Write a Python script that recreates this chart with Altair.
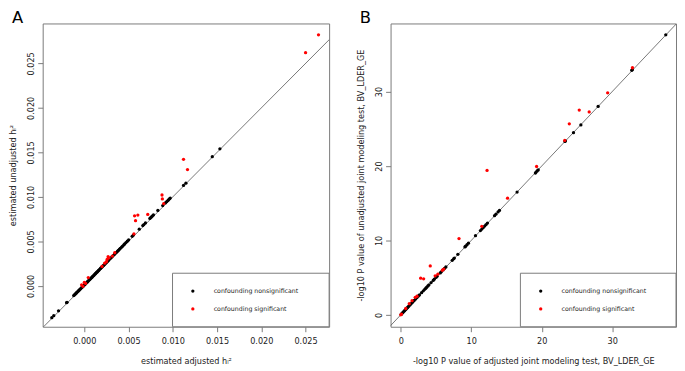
import altair as alt
import pandas as pd

# ---------------- data ----------------
legend_labels = ["confounding nonsignificant", "confounding significant"]
group_colors = ["#000000", "#ff0000"]

# Panel A: estimated adjusted h2 (x) vs estimated unadjusted h2 (y)
A_black = [
    (-0.00367, -0.00358), (-0.00345, -0.00336), (-0.00291, -0.00281), (-0.00200, -0.00189),
    (-0.00195, -0.00185), (-0.00120, -0.00110), (-0.00112, -0.00102), (-0.00103, -0.00094),
    (-0.00095, -0.00086), (-0.00087, -0.00078), (-0.00080, -0.00070), (-0.00072, -0.00063),
    (-0.00064, -0.00055), (-0.00056, -0.00047), (-0.00048, -0.00039), (-0.00040, -0.00031),
    (-0.00032, -0.00023), (-0.00024, -0.00015), (-0.00016, -0.00007), (-0.00008, 0.00001),
    (0.00000, 0.00009), (0.00007, 0.00016), (0.00014, 0.00023), (0.00022, 0.00031),
    (0.00030, 0.00039), (0.00037, 0.00046), (0.00044, 0.00054), (0.00052, 0.00062),
    (0.00060, 0.00070), (0.00067, 0.00077), (0.00074, 0.00084), (0.00082, 0.00092),
    (0.00090, 0.00100), (0.00097, 0.00107), (0.00105, 0.00115), (0.00112, 0.00122),
    (0.00120, 0.00131), (0.00128, 0.00139), (0.00136, 0.00147), (0.00143, 0.00154),
    (0.00151, 0.00162), (0.00159, 0.00170), (0.00166, 0.00177), (0.00174, 0.00186),
    (0.00183, 0.00195), (0.00191, 0.00203), (0.00199, 0.00211), (0.00208, 0.00220),
    (0.00216, 0.00228), (0.00225, 0.00237), (0.00233, 0.00245), (0.00242, 0.00254),
    (0.00252, 0.00264), (0.00264, 0.00276), (0.00277, 0.00290), (0.00290, 0.00303),
    (0.00302, 0.00315), (0.00314, 0.00327), (0.00327, 0.00340), (0.00340, 0.00353),
    (0.00352, 0.00365), (0.00364, 0.00377), (0.00376, 0.00389), (0.00386, 0.00399),
    (0.00396, 0.00410), (0.00406, 0.00420), (0.00421, 0.00435), (0.00433, 0.00447),
    (0.00446, 0.00460), (0.00456, 0.00471), (0.00471, 0.00486), (0.00486, 0.00501),
    (0.00501, 0.00516), (0.00541, 0.00557), (0.00553, 0.00569), (0.00621, 0.00637),
    (0.00661, 0.00677), (0.00673, 0.00689), (0.00691, 0.00707), (0.00741, 0.00757),
    (0.00753, 0.00769), (0.00766, 0.00782), (0.00781, 0.00797), (0.00831, 0.00847),
    (0.00886, 0.00902), (0.00916, 0.00932), (0.00929, 0.00944), (0.00941, 0.00956),
    (0.00951, 0.00966), (0.00963, 0.00978), (0.00971, 0.00986), (0.01121, 0.01128),
    (0.01148, 0.01154), (0.01446, 0.01452), (0.01532, 0.01540),
]
A_red = [
    (0.01121, 0.01422), (0.01166, 0.01307), (0.02500, 0.02621), (0.02646, 0.02822),
    (0.00878, 0.01021), (0.00882, 0.00977), (0.00897, 0.00924), (0.00568, 0.00787),
    (0.00605, 0.00795), (0.00579, 0.00732), (0.00717, 0.00802), (0.00561, 0.00583),
    (0.00269, 0.00327), (0.00258, 0.00297), (0.00317, 0.00334), (0.00344, 0.00372),
    (0.00250, 0.00272), (0.00280, 0.00315), (0.00045, 0.00093), (0.00000, 0.00038),
    (-0.00030, 0.00011), (0.00015, 0.00027), (0.00230, 0.00255), (0.00200, 0.00218),
    (-0.00015, -0.00005),
]
A_ticks = [0.0, 0.005, 0.010, 0.015, 0.020, 0.025]
A_xdomain = [-0.0047, 0.02766]
A_ydomain = [-0.0046, 0.02949]

# Panel B: -log10 P adjusted (x) vs unadjusted (y)
B_black = [
    (0.05, 0.06), (0.15, 0.17), (0.25, 0.27), (0.35, 0.37), (0.45, 0.47), (0.55, 0.57),
    (0.65, 0.67), (0.75, 0.77), (0.85, 0.87), (0.95, 0.97), (1.05, 1.08), (1.15, 1.18),
    (1.30, 1.33), (1.45, 1.48), (1.60, 1.63), (1.75, 1.78), (1.90, 1.93), (2.10, 2.13),
    (2.30, 2.33), (2.50, 2.53), (2.65, 2.68), (2.95, 2.98), (3.20, 3.23), (3.40, 3.43),
    (3.55, 3.58), (3.70, 3.73), (3.85, 3.88), (4.00, 4.03), (4.30, 4.33), (4.60, 4.63),
    (4.75, 4.78), (5.00, 5.03), (5.15, 5.18), (5.60, 5.63), (5.75, 5.78), (6.00, 6.03),
    (6.20, 6.23), (6.40, 6.43), (7.30, 7.33), (7.50, 7.53), (7.60, 7.63), (8.10, 8.13),
    (9.10, 9.13), (9.20, 9.23), (9.40, 9.43), (9.60, 9.63), (10.60, 10.63), (11.30, 11.33),
    (11.50, 11.53), (11.70, 11.73), (11.90, 11.93), (12.10, 12.13), (12.30, 12.33),
    (13.30, 13.33), (13.50, 13.53), (13.80, 13.83), (14.00, 14.03), (16.50, 16.50),
    (19.10, 19.05), (19.20, 19.18), (19.35, 19.33), (19.50, 19.47), (23.30, 23.30),
    (23.35, 23.38), (24.50, 24.48), (25.55, 25.52), (28.00, 28.00), (32.78, 32.85),
    (32.85, 32.95), (37.60, 37.62),
]
B_red = [
    (0.00, 0.00), (0.10, 0.10), (0.70, 0.85), (1.20, 1.50), (1.60, 1.90), (2.05, 2.35),
    (2.30, 2.50), (2.82, 4.93), (3.24, 4.84), (4.18, 6.57), (4.88, 5.24), (5.26, 5.46),
    (5.90, 5.99), (6.10, 6.15), (8.26, 10.25), (11.49, 11.89), (15.15, 15.67),
    (12.24, 19.40), (19.27, 19.93), (23.26, 23.44), (23.91, 25.66), (25.32, 27.52),
    (26.73, 27.26), (29.35, 29.83), (32.87, 33.20),
]
B_ticks = [0, 10, 20, 30]
B_xdomain = [-1.45, 39.05]
B_ydomain = [-1.6, 39.15]

# ---------------- styling ----------------
FONT = "DejaVu Sans"
GRAY = "#7a7a7a"
TXT = "#222222"
H = 306
one = pd.DataFrame({"k": [0]})


def panel(label, black, red, xdom, ydom, ticks, fmt, xtitle, ytitle, width):
    df = pd.DataFrame({
        "x": [p[0] for p in black] + [p[0] for p in red],
        "y": [p[1] for p in black] + [p[1] for p in red],
        "group": [legend_labels[0]] * len(black) + [legend_labels[1]] * len(red),
    })
    xs = alt.Scale(domain=xdom, nice=False, zero=False)
    ys = alt.Scale(domain=ydom, nice=False, zero=False)
    xaxis = alt.Axis(values=ticks, format=fmt, title=xtitle, labelPadding=6,
                     labelOverlap=False, labelFlush=False, zindex=1,
                     titleBaseline="alphabetic", titleY=37)
    yaxis = alt.Axis(values=ticks, format=fmt, title=ytitle, labelAngle=270,
                     labelOverlap=False, labelFlush=False, zindex=1,
                     labelAlign="center", labelBaseline="alphabetic", labelPadding=4,
                     titleAngle=270, titleBaseline="alphabetic", titleX=-27)
    lo = min(xdom[0], ydom[0])
    hi = max(xdom[1], ydom[1])
    diag_df = pd.DataFrame({"x": [lo, hi], "y": [lo, hi]})
    diag = alt.Chart(diag_df).mark_line(color="#555555", strokeWidth=0.8, clip=True).encode(
        x=alt.X("x:Q", scale=xs, axis=xaxis),
        y=alt.Y("y:Q", scale=ys, axis=yaxis),
    )
    pts = alt.Chart(df).mark_circle(size=11, opacity=1).encode(
        x=alt.X("x:Q", scale=xs, axis=xaxis),
        y=alt.Y("y:Q", scale=ys, axis=yaxis),
        color=alt.Color("group:N", scale=alt.Scale(domain=legend_labels, range=group_colors),
                        legend=None),
    )
    box = alt.Chart(one).mark_rect(fill="white", stroke=GRAY, strokeWidth=1).encode(
        x=alt.value(131), x2=alt.value(width), y=alt.value(252), y2=alt.value(H)
    )
    layers = [diag, pts, box]
    for i, lab in enumerate(legend_labels):
        layers.append(alt.Chart(one).mark_circle(size=11, opacity=1, color=group_colors[i]).encode(
            x=alt.value(151.5), y=alt.value(270 + 18 * i)))
        layers.append(alt.Chart(one).mark_text(text=lab, align="left", baseline="middle",
                                               font=FONT, fontSize=6.3, color=TXT).encode(
            x=alt.value(172.5), y=alt.value(270 + 18 * i)))
    layers.append(alt.Chart(one).mark_text(text=label, align="left", baseline="top",
                                           font=FONT, fontSize=16.5, color="#000000").encode(
        x=alt.value(-31), y=alt.value(-13)))
    return alt.layer(*layers).properties(width=width, height=H)


pA = panel("A", A_black, A_red, A_xdomain, A_ydomain, A_ticks, ".3f",
           "estimated adjusted hₗ²", "estimated unadjusted hₗ²", 289)
pB = panel("B", B_black, B_red, B_xdomain, B_ydomain, B_ticks, ".0f",
           "-log10 P value of adjusted joint modeling test, BV_LDER_GE",
           "-log10 P value of unadjusted joint modeling test, BV_LDER_GE", 288)

chart = alt.hconcat(pA, pB, spacing=62, bounds="flush").properties(
    padding={"left": 0, "top": 0, "right": 0, "bottom": 0},
    background="white",
).configure_view(stroke=GRAY, strokeWidth=1).configure_axis(
    domain=False, grid=False, ticks=True, tickSize=5, tickColor=GRAY, tickWidth=1,
    labelFont=FONT, labelFontSize=8.2, labelColor=TXT,
    titleFont=FONT, titleFontSize=8.2, titleFontWeight="normal", titleColor=TXT,
)

chart.save("out.html", embed_options={"renderer": "svg", "actions": False})
